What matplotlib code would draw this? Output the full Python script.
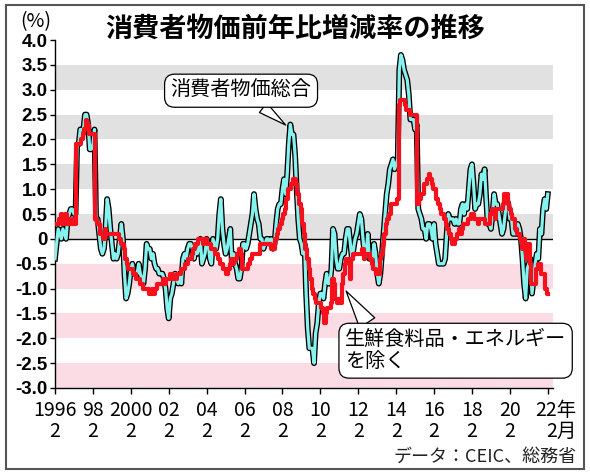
import numpy as np
import matplotlib.pyplot as plt
from matplotlib.patches import Rectangle

plt.rcParams['font.family'] = ['Noto Sans CJK JP', 'DejaVu Sans']

# 前年同月比(%)  1996年2月 〜 2022年2月
cpi_total = [
    -0.4, -0.1, 0.2, 0.1, 0.0, 0.2, 0.1, 0.0, 0.4, 0.5, 0.6,          # 1996 (2月〜)
    0.6, 0.5, 0.5, 1.9, 1.9, 2.2, 2.2, 2.2, 2.5, 2.5, 2.3, 1.8,        # 1997
    1.8, 1.9, 2.2, 0.4, 0.4, 0.1, -0.2, -0.3, -0.2, 0.2, 0.8, 0.6,     # 1998
    0.2, -0.1, -0.4, -0.3, -0.4, -0.3, 0.0, 0.3, 0.0, -0.7, -1.2, -1.1,  # 1999
    -0.9, -0.6, -0.5, -0.7, -0.7, -0.7, -0.5, -0.7, -0.8, -0.9, -0.6, -0.1,  # 2000
    -0.2, -0.2, -0.4, -0.3, -0.5, -0.6, -0.6, -0.7, -0.7, -0.7, -0.8, -1.0,  # 2001
    -1.4, -1.6, -1.2, -1.1, -0.9, -0.7, -0.8, -0.9, -0.7, -0.9, -0.4, -0.3,  # 2002
    -0.4, -0.2, -0.1, -0.1, -0.2, -0.4, -0.2, -0.3, -0.2, 0.0, -0.5, -0.4,   # 2003
    -0.3, 0.0, -0.1, -0.4, -0.5, 0.0, -0.1, -0.2, 0.0, 0.5, 0.8, 0.2,        # 2004
    -0.1, -0.3, -0.2, 0.0, 0.2, -0.5, -0.3, -0.5, -0.6, -0.8, -0.8, -0.6,    # 2005
    -0.1, -0.1, -0.2, -0.1, 0.1, 0.3, 0.5, 0.9, 0.6, 0.4, 0.3, 0.0,          # 2006
    0.0, -0.2, -0.1, 0.0, 0.0, -0.1, 0.0, -0.2, -0.1, 0.3, 0.6, 0.7,         # 2007
    0.7, 1.0, 1.2, 0.9, 1.3, 1.9, 2.3, 2.1, 2.1, 1.7, 1.0, 0.4,              # 2008
    0.0, -0.1, -0.3, -0.1, -1.1, -1.8, -2.2, -2.2, -2.2, -2.5, -1.9, -1.7,   # 2009
    -1.3, -1.1, -1.1, -1.2, -0.9, -0.7, -0.9, -0.9, -0.6, 0.2, 0.1, -0.4,    # 2010
    -0.6, -0.6, -0.4, -0.3, -0.3, 0.0, 0.2, 0.2, -0.1, -0.4, -0.2, 0.0,      # 2011
    0.1, 0.3, 0.5, 0.4, 0.0, -0.3, -0.3, 0.1, -0.4, -0.4, -0.4, -0.1,        # 2012
    -0.3, -0.7, -0.9, -0.7, -0.3, 0.1, 0.5, 0.9, 1.1, 1.4, 1.5, 1.6,         # 2013
    1.4, 1.5, 1.6, 3.4, 3.7, 3.6, 3.4, 3.3, 3.2, 2.9, 2.4, 2.4,              # 2014
    2.4, 2.2, 2.3, 0.6, 0.5, 0.4, 0.2, 0.2, 0.0, 0.3, 0.3, 0.2,              # 2015
    0.0, 0.3, -0.1, -0.3, -0.5, -0.5, -0.5, -0.5, -0.4, 0.1, 0.5, 0.4,       # 2016
    0.4, 0.4, 0.3, 0.4, 0.3, 0.3, 0.6, 0.7, 0.5, 0.7, 0.6, 1.0,              # 2017
    1.4, 1.5, 1.1, 0.6, 0.7, 0.7, 0.9, 1.3, 1.2, 1.4, 0.8, 0.3,              # 2018
    0.3, 0.2, 0.5, 0.9, 0.7, 0.7, 0.5, 0.3, 0.1, 0.2, 0.5, 0.8,              # 2019
    0.7, 0.4, 0.4, 0.1, 0.1, 0.1, 0.3, 0.2, 0.0, -0.4, -0.9, -1.2,           # 2020
    -0.6, -0.5, -0.4, -1.1, -0.8, -0.5, -0.3, -0.4, 0.2, 0.1, 0.6, 0.8,      # 2021
    0.6, 0.9,                                                                # 2022
]

cpi_core = [
    0.3, 0.3, 0.3, 0.4, 0.5, 0.3, 0.4, 0.5, 0.3, 0.4, 0.3,                   # 1996 (2月〜)
    0.3, 0.4, 0.3, 1.9, 1.9, 1.9, 2.0, 2.1, 2.2, 2.4, 2.3, 2.1,              # 1997
    2.1, 2.1, 2.1, 0.4, 0.3, 0.3, 0.1, 0.1, 0.0, 0.2, 0.1, 0.1,              # 1998
    0.1, 0.1, 0.1, 0.1, 0.1, 0.1, 0.0, -0.1, -0.1, -0.2, -0.4, -0.5,         # 1999
    -0.6, -0.6, -0.6, -0.7, -0.7, -0.8, -0.8, -0.9, -0.9, -1.0, -1.0, -1.0,  # 2000
    -1.0, -1.1, -1.1, -1.0, -1.1, -1.0, -0.9, -0.9, -0.9, -0.9, -0.8, -0.9,  # 2001
    -0.8, -0.8, -0.7, -0.7, -0.8, -0.8, -0.8, -0.7, -0.7, -0.6, -0.6, -0.6,  # 2002
    -0.5, -0.5, -0.4, -0.4, -0.3, -0.2, -0.1, -0.1, 0.0, 0.0, 0.0, -0.1,     # 2003
    0.0, 0.0, -0.1, -0.1, -0.2, -0.2, -0.2, -0.3, -0.3, -0.4, -0.5, -0.5,    # 2004
    -0.6, -0.6, -0.7, -0.6, -0.5, -0.4, -0.5, -0.4, -0.4, -0.3, -0.2, -0.3,  # 2005
    -0.6, -0.6, -0.6, -0.6, -0.5, -0.4, -0.3, -0.3, -0.3, -0.3, -0.3, -0.1,  # 2006
    -0.1, -0.1, -0.1, -0.1, -0.1, -0.1, -0.2, -0.2, -0.2, 0.0, 0.1, 0.2,     # 2007
    0.3, 0.4, 0.5, 0.6, 0.8, 1.0, 1.0, 1.1, 1.2, 1.2, 1.1, 0.9,              # 2008
    0.7, 0.6, 0.3, 0.1, -0.2, -0.4, -0.6, -0.8, -1.0, -1.1, -1.2, -1.3,      # 2009
    -1.3, -1.3, -1.4, -1.5, -1.7, -1.5, -1.4, -1.4, -1.3, -0.8, -0.9, -1.2,  # 2010
    -1.3, -1.2, -1.3, -0.9, -0.7, -0.5, -0.4, -0.4, -0.8, -0.4, -0.3, -0.3,  # 2011
    -0.3, -0.3, -0.3, -0.3, -0.2, -0.4, -0.3, -0.3, -0.3, -0.4, -0.5, -0.6,  # 2012
    -0.6, -0.7, -0.7, -0.4, -0.3, -0.1, 0.1, 0.3, 0.4, 0.5, 0.7, 0.7,        # 2013
    0.7, 0.7, 0.8, 2.7, 2.8, 2.8, 2.8, 2.7, 2.6, 2.6, 2.5, 2.5,              # 2014
    2.5, 2.5, 2.5, 0.7, 0.8, 0.9, 0.9, 1.1, 1.1, 1.2, 1.3, 1.2,              # 2015
    1.1, 1.0, 1.0, 0.8, 0.7, 0.6, 0.5, 0.5, 0.4, 0.3, 0.2, 0.1,              # 2016
    0.0, -0.1, -0.1, 0.0, 0.1, 0.2, 0.1, 0.2, 0.3, 0.3, 0.3, 0.4,            # 2017
    0.4, 0.5, 0.5, 0.4, 0.4, 0.3, 0.4, 0.4, 0.4, 0.4, 0.3, 0.3,              # 2018
    0.3, 0.5, 0.6, 0.5, 0.4, 0.6, 0.6, 0.6, 0.6, 0.7, 0.9, 0.9,              # 2019
    0.7, 0.6, 0.5, 0.4, 0.4, 0.2, 0.1, 0.1, 0.0, -0.2, 0.0, -0.2,            # 2020
    -0.4, -0.1, -0.5, -0.9, -0.9, -0.9, -0.6, -0.5, -0.5, -0.7, -0.7, -0.7,  # 2021
    -1.0, -1.1,                                                              # 2022
]

tick_labels = ['1996\n2', '98\n2', '2000\n2', '02\n2', '04\n2', '06\n2', '08\n2',
               '10\n2', '12\n2', '14\n2', '16\n2', '18\n2', '20\n2', '']
last_label = '22年\n2月'
y_ticks = [4.0, 3.5, 3.0, 2.5, 2.0, 1.5, 1.0, 0.5, 0, -0.5, -1.0, -1.5, -2.0, -2.5, -3.0]

months = np.arange(len(cpi_total))   # 0 = 1996年2月

fig = plt.figure(figsize=(5.9, 4.75), dpi=100)
ax = fig.add_axes([55 / 590, 1 - 388 / 475, 498 / 590, 348 / 475])

for lo in [3.0, 2.0, 1.0, 0.0]:
    ax.axhspan(lo, lo + 0.5, color='#e1e1e1', lw=0, zorder=0)
for lo in [-1.0, -2.0, -3.0]:
    ax.axhspan(lo, lo + 0.5, color='#fbdce5', lw=0, zorder=0)
ax.axhline(0, color='black', lw=1.0, zorder=1)

ax.plot(months, cpi_total, color='black', lw=4.2, solid_joinstyle='round', zorder=2)
ax.plot(months, cpi_total, color='#86f2ee', lw=2.3, solid_joinstyle='round', zorder=3)
ax.plot(months, cpi_core, color='#f5101c', lw=3.0, drawstyle='steps-mid', zorder=4)

ax.set_xlim(0, 315.3)
ax.set_ylim(-3.0, 4.0)
for s in ['top', 'right']:
    ax.spines[s].set_visible(False)
for s in ['left', 'bottom']:
    ax.spines[s].set_linewidth(1.0)

ax.set_yticks(y_ticks)
ax.set_yticklabels(['0' if v == 0 else f'{v:.1f}' for v in y_ticks],
                   family='Liberation Sans', fontweight='bold', fontsize=13.5)
ax.tick_params(axis='y', length=3.8, width=1.0, pad=1.5)

ax.set_xticks(months[::24])
ax.set_xticklabels(tick_labels, fontsize=14, linespacing=1.0)
ax.tick_params(axis='x', length=4.3, width=1.0, pad=4)
ax.annotate(last_label, xy=(months[-1], 0), xycoords=ax.get_xaxis_transform(),
            xytext=(20.5, -8.3), textcoords='offset points', ha='right', va='top',
            multialignment='right', fontsize=14, linespacing=1.0, annotation_clip=False)

# 吹き出し
ax.annotate('消費者物価総合', xy=(146, 2.29), xytext=(117.8, 2.98),
            fontsize=14.5, ha='center', va='center', zorder=6,
            bbox=dict(boxstyle='round,pad=0.3,rounding_size=0.5', fc='white', ec='black', lw=0.9),
            arrowprops=dict(arrowstyle='wedge,tail_width=0.6', fc='white', ec='black', lw=0.9,
                            shrinkA=0, shrinkB=0))
ax.annotate('生鮮食料品・エネルギー\nを除く', xy=(184.3, -1.05), xytext=(183.6, -2.25),
            fontsize=14.5, ha='left', va='center', linespacing=1.05, zorder=6,
            annotation_clip=False,
            bbox=dict(boxstyle='round,pad=0.3,rounding_size=0.5', fc='white', ec='black', lw=0.9),
            arrowprops=dict(arrowstyle='wedge,tail_width=0.9', fc='white', ec='black', lw=0.9,
                            shrinkA=0, shrinkB=0, relpos=(0.12, 1.0)))

fig.text(0.5, 1 - 29 / 475, '消費者物価前年比増減率の推移', ha='center', va='center',
         fontsize=19.5, fontweight='bold')
fig.text(36 / 590, 1 - 22 / 475, '(%)', ha='center', va='center', fontsize=14)
fig.text(577 / 590, 1 - 457 / 475, 'データ：CEIC、総務省', ha='right', va='center',
         fontsize=13, color='#222222')

fig.patches.append(Rectangle((6 / 590, 6 / 475), 578 / 590, 464 / 475, transform=fig.transFigure,
                             fill=False, ec='#555555', lw=1.5))

fig.savefig('out.png', dpi=100)
